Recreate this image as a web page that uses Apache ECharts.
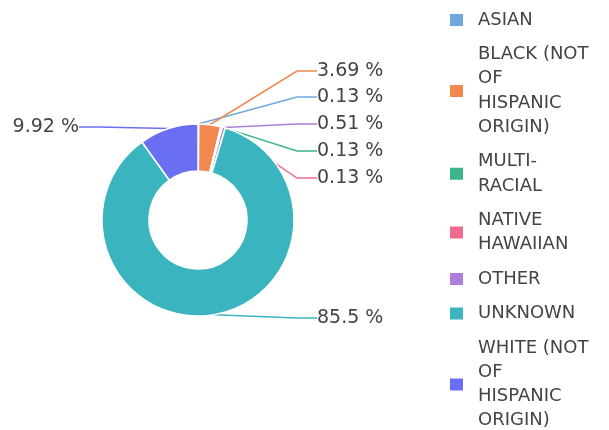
<!DOCTYPE html>
<html>
<head>
<meta charset="utf-8">
<script src="https://cdn.jsdelivr.net/npm/echarts@6/dist/echarts.min.js"></script>
<style>html,body{margin:0;padding:0;background:#fff}#c{width:609px;height:430px}</style>
</head>
<body>
<div id="c"></div>
<script>
var categories = ['ASIAN', 'BLACK (NOT OF HISPANIC ORIGIN)', 'MULTI-RACIAL', 'NATIVE HAWAIIAN', 'OTHER', 'UNKNOWN', 'WHITE (NOT OF HISPANIC ORIGIN)'];
var values = [0.13, 3.69, 0.13, 0.13, 0.51, 85.5, 9.92];
var colors = ['#6fa8dc', '#f0884f', '#3cb38a', '#ee6b8f', '#ad7fd9', '#3ab5bf', '#6a6ff2'];
var legendLines = {
  'ASIAN': 'ASIAN',
  'BLACK (NOT OF HISPANIC ORIGIN)': 'BLACK (NOT\nOF\nHISPANIC\nORIGIN)',
  'MULTI-RACIAL': 'MULTI-\nRACIAL',
  'NATIVE HAWAIIAN': 'NATIVE\nHAWAIIAN',
  'OTHER': 'OTHER',
  'UNKNOWN': 'UNKNOWN',
  'WHITE (NOT OF HISPANIC ORIGIN)': 'WHITE (NOT\nOF\nHISPANIC\nORIGIN)'
};
// label placement (layout only): [x, y, align]
var labelPlace = [[317, 97, 'left'], [317, 71, 'left'], [317, 151, 'left'], [317, 178, 'left'], [317, 124, 'left'], [317, 318, 'left'], [79, 127, 'right']];

var chart = echarts.init(document.getElementById('c'), null, {renderer: 'canvas'});
chart.setOption({
  animation: false,
  color: colors,
  legend: {
    orient: 'vertical',
    left: 448,
    top: 8,
    height: 470,
    padding: 0,
    itemWidth: 15,
    itemHeight: 14,
    itemGap: 10.3,
    icon: 'rect',
    selectedMode: false,
    textStyle: {fontFamily: 'DejaVu Sans', fontSize: 18, color: '#444', lineHeight: 24.2, padding: [0, 0, 0, 9]},
    formatter: function (n) { return legendLines[n] || n; },
    data: categories
  },
  series: [{
    type: 'pie',
    center: [198, 220],
    radius: [49, 96],
    startAngle: 90,
    clockwise: true,
    avoidLabelOverlap: false,
    itemStyle: {borderColor: '#fff', borderWidth: 1.5},
    label: {
      show: true,
      position: 'outside',
      formatter: function (p) { return p.value + ' %'; },
      fontFamily: 'DejaVu Sans',
      fontSize: 19,
      color: '#444'
    },
    labelLine: {show: true, length: 8, length2: 20, lineStyle: {width: 1.5}},
    labelLayout: function (p) {
      var L = labelPlace[p.dataIndex];
      return {x: L[0], y: L[1], align: L[2], verticalAlign: 'middle'};
    },
    data: categories.map(function (c, i) { return {name: c, value: values[i]}; })
  }]
});
</script>
</body>
</html>
